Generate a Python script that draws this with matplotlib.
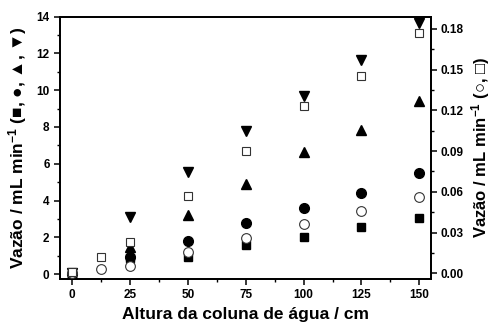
import matplotlib
matplotlib.use("Agg")
import matplotlib.pyplot as plt
from matplotlib.ticker import MultipleLocator, FormatStrFormatter

# Heights (cm)
x_all = [0, 25, 50, 75, 100, 125, 150]
x_open = [0, 12.5, 25, 50, 75, 100, 125, 150]

# Left axis series (mL/min)
sq_filled = [0.0, 0.85, 0.91, 1.58, 2.03, 2.58, 3.07]
circ_filled = [0.0, 0.95, 1.82, 2.77, 3.58, 4.42, 5.51]
tri_up = [0.0, 1.49, 3.22, 4.91, 6.62, 7.86, 9.40]
tri_down = [0.05, 3.09, 5.53, 7.76, 9.71, 11.67, 13.67]

# Right axis series (mL/min)
circ_open = [0.0003, 0.0032, 0.0054, 0.0155, 0.0258, 0.0364, 0.0462, 0.0561]
sq_open = [0.001, 0.0118, 0.0233, 0.057, 0.0902, 0.1229, 0.1455, 0.177]

FAM = ['Liberation Sans', 'DejaVu Sans']
plt.rcParams['font.family'] = FAM
plt.rcParams['font.weight'] = 'bold'
plt.rcParams['mathtext.fontset'] = 'custom'
plt.rcParams['mathtext.rm'] = 'Liberation Sans:bold'
plt.rcParams['mathtext.bf'] = 'Liberation Sans:bold'
plt.rcParams['mathtext.default'] = 'bf'

fig = plt.figure(figsize=(4.94, 3.25), dpi=100)
ax = fig.add_axes([60/494, 1-279/325, (430.5-60)/494, (279-16.7)/325])
ax2 = ax.twinx()

ax.plot(x_all, sq_filled, ls='none', marker='s', ms=6, color='black', zorder=3)
ax.plot(x_all, circ_filled, ls='none', marker='o', ms=7, color='black', zorder=3)
ax.plot(x_all, tri_up, ls='none', marker='^', ms=7.5, color='black', zorder=3)
ax.plot(x_all, tri_down, ls='none', marker='v', ms=7.5, color='black', zorder=3)

ax2.plot(x_open, circ_open, ls='none', marker='o', ms=7, mfc='white', mec='#333333', mew=0.8, zorder=4)
ax2.plot(x_open, sq_open, ls='none', marker='s', ms=6, mfc='white', mec='#333333', mew=0.8, zorder=4)

ax.set_xlim(-5.2, 154.8)
ax.set_ylim(-0.27, 14)
ax2.set_ylim(-0.0042, 0.189)

ax.xaxis.set_major_locator(MultipleLocator(25))
ax.xaxis.set_minor_locator(MultipleLocator(12.5))
ax.yaxis.set_major_locator(MultipleLocator(2))
ax.yaxis.set_minor_locator(MultipleLocator(1))
ax2.yaxis.set_major_locator(MultipleLocator(0.03))
ax2.yaxis.set_minor_locator(MultipleLocator(0.015))
ax2.yaxis.set_major_formatter(FormatStrFormatter('%.2f'))

for a in (ax, ax2):
    for s in a.spines.values():
        s.set_linewidth(1.3)
    a.tick_params(which='major', direction='out', length=4, width=1.1, labelsize=8.5)
    a.tick_params(which='minor', direction='out', length=2.5, width=1.0)
ax.tick_params(top=False, right=False)
ax2.tick_params(left=False)

for lab in ax.get_xticklabels() + ax.get_yticklabels() + ax2.get_yticklabels():
    lab.set_fontweight('bold')

ax.set_xlabel('Altura da coluna de água / cm', fontsize=12.5, fontweight='bold', labelpad=4)
ax.set_ylabel('Vazão / mL min$^{-1}$ (\u25a0, \u25cf, \u25b2, \u25bc)', fontsize=12.5, fontweight='bold', labelpad=5)
ax2.set_ylabel('Vazão / mL min$^{-1}$ (\u25cb, \u25a1)', fontsize=12, fontweight='bold', labelpad=4)

fig.savefig('out.png', dpi=100)
